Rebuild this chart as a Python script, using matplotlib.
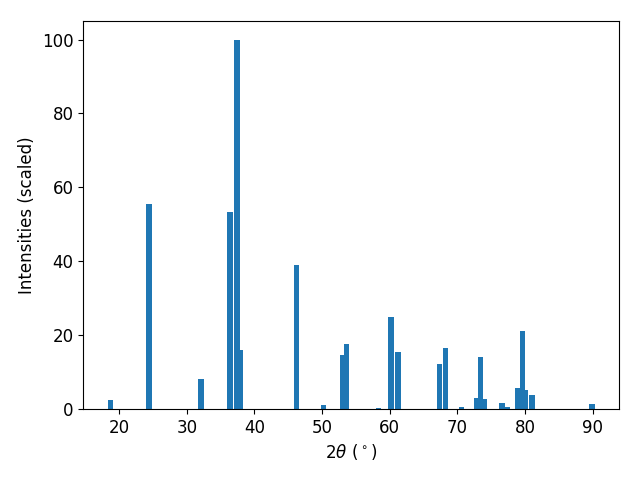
import matplotlib
matplotlib.use("Agg")
import matplotlib.pyplot as plt

# peak positions (2theta, degrees) and scaled intensities
two_theta = [18.67, 24.42, 32.1, 36.37, 37.4, 37.85, 46.19, 50.25, 53.05, 53.64,
             58.36, 60.2, 61.24, 67.38, 68.26, 70.62, 72.9, 73.4, 73.93,
             76.6, 77.4, 79.0, 79.67, 80.04, 81.06, 89.9]
intensity = [2.4, 55.6, 8.2, 53.4, 100.0, 16.0, 38.9, 1.1, 14.7, 17.7,
             0.3, 25.0, 15.5, 12.2, 16.6, 0.5, 3.0, 14.1, 2.7,
             1.6, 0.5, 5.7, 21.2, 5.2, 3.8, 1.4]

fig, ax = plt.subplots(figsize=(6.4, 4.8), dpi=100)
ax.bar(two_theta, intensity, width=0.8)
ax.set_xlabel(r"$2\theta\ (^\circ)$", fontsize=12)
ax.set_ylabel("Intensities (scaled)", fontsize=12)
ax.tick_params(labelsize=12)
fig.subplots_adjust(left=0.13, right=0.967, top=0.956, bottom=0.148)
fig.savefig("out.png")
